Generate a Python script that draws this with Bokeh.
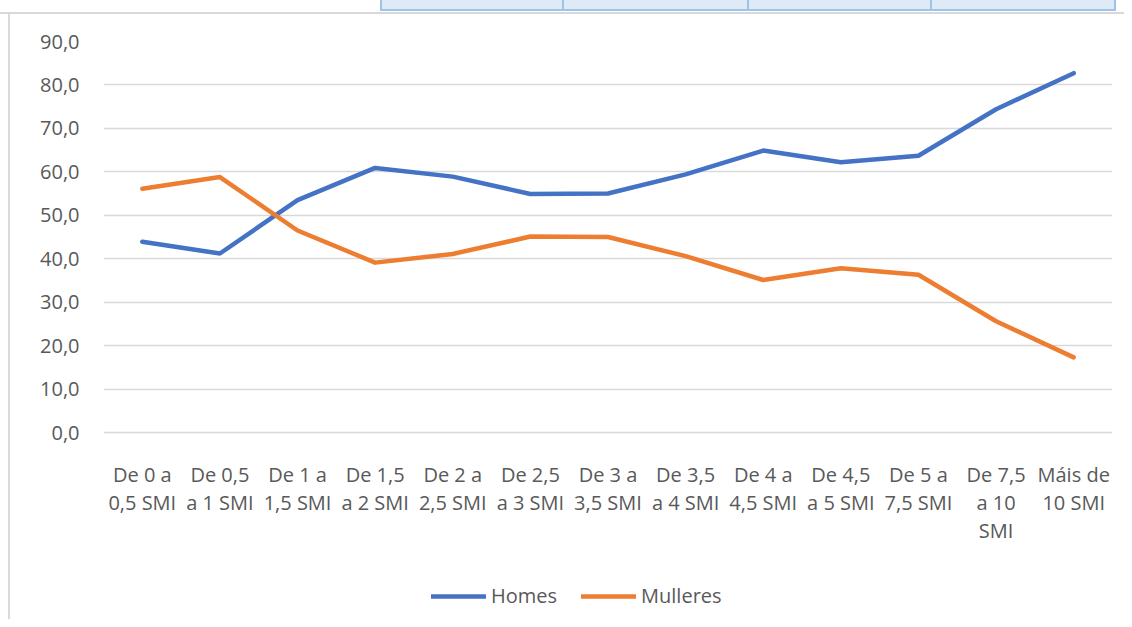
from bokeh.plotting import figure
from bokeh.models import FixedTicker, Legend, LegendItem, FactorRange, Range1d
from bokeh.embed import file_html
from bokeh.resources import INLINE

categories = [
    "De 0 a\n0,5 SMI",
    "De 0,5\na 1 SMI",
    "De 1 a\n1,5 SMI",
    "De 1,5\na 2 SMI",
    "De 2 a\n2,5 SMI",
    "De 2,5\na 3 SMI",
    "De 3 a\n3,5 SMI",
    "De 3,5\na 4 SMI",
    "De 4 a\n4,5 SMI",
    "De 4,5\na 5 SMI",
    "De 5 a\n7,5 SMI",
    "De 7,5\na 10\nSMI",
    "Máis de\n10 SMI",
]
homes = [43.9, 41.2, 53.5, 60.9, 58.9, 54.9, 55.0, 59.4, 64.9, 62.2, 63.7, 74.4, 82.7]
mulleres = [56.1, 58.8, 46.5, 39.1, 41.1, 45.1, 45.0, 40.6, 35.1, 37.8, 36.3, 25.6, 17.3]
y_ticks = [0, 10, 20, 30, 40, 50, 60, 70, 80, 90]
y_tick_labels = ["0,0", "10,0", "20,0", "30,0", "40,0", "50,0", "60,0", "70,0", "80,0", "90,0"]

BLUE = "#4472C4"
ORANGE = "#ED7D31"
TEXT = "#595959"
GRID = "#D9D9D9"
FONT = "Open Sans"

W, H = 1124, 619
TOP, BOTTOM_ZERO = 41, 432          # pixel rows of 90 and 0
px_per_unit = (BOTTOM_ZERO - TOP) / 90.0
y_low = -(H - BOTTOM_ZERO) / px_per_unit   # extend frame below 0 to host labels and legend

p = figure(
    x_range=FactorRange(factors=categories, range_padding=0),
    y_range=Range1d(y_low, 90),
    width=W, height=H,
    output_backend="svg", toolbar_location=None,
    min_border_left=103, min_border_right=12,
    min_border_top=TOP, min_border_bottom=0,
)
p.border_fill_color = None
p.background_fill_color = None
p.outline_line_color = None

bg = [
    "linear-gradient(#d9d9d9,#d9d9d9) 0px 12px / 100% 2px no-repeat",
    "linear-gradient(#d9d9d9,#d9d9d9) 8px 12px / 2px 100% no-repeat",
    "linear-gradient(#9dc3e6,#9dc3e6) 380px 9px / 736px 2px no-repeat",
]
for xd in [380, 562, 747, 930, 1114]:
    bg.append(f"linear-gradient(#9dc3e6,#9dc3e6) {xd}px 0px / 2px 11px no-repeat")
bg.append("linear-gradient(#deebf7,#deebf7) 380px 0px / 736px 11px no-repeat")
p.styles = {"background": ", ".join(bg)}

p.xgrid.grid_line_color = None
p.ygrid.grid_line_color = GRID
p.ygrid.grid_line_width = 1.5

p.yaxis.ticker = FixedTicker(ticks=y_ticks)
p.yaxis.major_label_overrides = {t: l for t, l in zip(y_ticks, y_tick_labels)}
for ax in (p.xaxis[0], p.yaxis[0]):
    ax.axis_line_color = None
    ax.major_tick_line_color = None
    ax.minor_tick_line_color = None
    ax.major_tick_in = 0
    ax.major_tick_out = 0
    ax.major_label_text_font = FONT
    ax.major_label_text_font_size = "20px"
    ax.major_label_text_color = TEXT
p.yaxis.major_label_standoff = 24
p.xaxis.fixed_location = 0
p.xaxis.major_label_standoff = 28
p.xaxis.major_label_text_line_height = 1.05
p.xaxis.major_label_orientation = "horizontal"

r1 = p.line(categories, homes, line_color=BLUE, line_width=4.5,
            line_cap="round", line_join="round")
r2 = p.line(categories, mulleres, line_color=ORANGE, line_width=4.5,
            line_cap="round", line_join="round")

legend = Legend(
    items=[LegendItem(label="Homes", renderers=[r1]),
           LegendItem(label="Mulleres", renderers=[r2])],
    orientation="horizontal",
    location=(328, 10),
    glyph_width=55, glyph_height=20,
    label_standoff=5, spacing=24, padding=0, margin=0,
    border_line_color=None, background_fill_alpha=0,
    label_text_font=FONT, label_text_font_size="20px",
    label_text_color=TEXT,
)
p.add_layout(legend)

open("out.html", "w").write(file_html(p, INLINE))
